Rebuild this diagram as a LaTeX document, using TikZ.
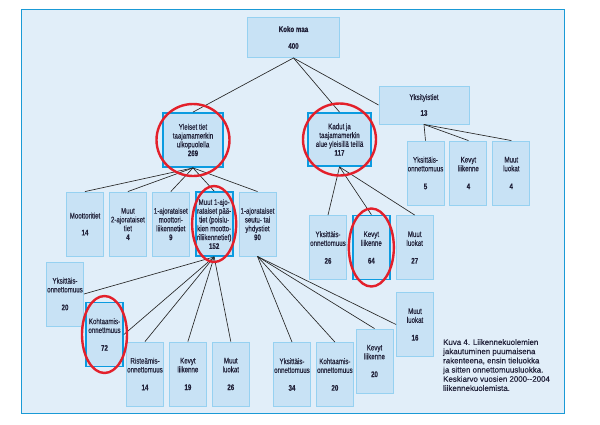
\documentclass[tikz,border=0pt]{standalone}
\usepackage{fontspec}
\setmainfont{Liberation Sans}[FakeStretch=0.76,FakeBold=0.35]
\newfontfamily\capfont{Liberation Sans}[FakeBold=0.35]
\usepackage{tikz}
\usetikzlibrary{positioning}
\definecolor{ink}{HTML}{22223A}
\definecolor{wire}{HTML}{262626}
\definecolor{panelbg}{HTML}{E1EEF9}
\definecolor{panelline}{HTML}{1A9AD6}
\definecolor{boxfill}{HTML}{C8E2F5}
\definecolor{boxline}{HTML}{96D1F1}
\definecolor{hlblue}{HTML}{0B9BE0}
\definecolor{ringred}{HTML}{E3202B}
\newcommand{\boxfont}{\fontsize{8.1}{8.8}\selectfont}
\tikzset{
  every node/.style={text=ink},
  box/.style={draw=boxline,fill=boxfill,line width=0.9pt,align=center,inner xsep=0pt,inner ysep=1pt,minimum width=37pt,minimum height=64pt,font=\boxfont},
  hl/.style={box,draw=hlblue,line width=1.8pt},
  ring/.style={draw=ringred,line width=2.4pt},
  link/.style={draw=wire,line width=0.65pt},
  panel/.style={fill=panelbg,draw=panelline,line width=1pt},
  capnote/.style={font=\capfont\fontsize{7.9}{9.2}\selectfont,align=left,inner sep=0pt}
}
\begin{document}
\begin{tikzpicture}[x=1pt,y=-1pt,node distance=5pt and 5pt]
  \fill[white] (0,0) rectangle (600,424);
  \useasboundingbox (0,0) rectangle (600,424);
  \draw[panel] (21,9) rectangle (564,413);

  % top levels
  \node[box,font=\boxfont\bfseries,minimum width=92pt,minimum height=40pt] (koko) at (293.5,37.5) {Koko maa\\[8pt]400};
  \node[hl,minimum width=60pt,minimum height=54pt] (yleiset) at (193,140) {Yleiset tiet\\taajamamerkin\\ulkopuolella\\\textbf{269}};
  \node[hl,minimum width=63pt,minimum height=53pt] (kadut) at (339.5,139.5) {Kadut ja\\taajamamerkin\\alue yleisillä teillä\\\textbf{117}};
  \node[box,minimum width=90pt,minimum height=38pt] (yksit) at (424,105) {Yksityistiet\\[7pt]\textbf{13}};

  % road classes
  \node[box] (moottori) at (85,224) {Moottoritiet\\[8pt]\textbf{14}};
  \node[box,right=of moottori] (muut2) {Muut\\2-ajorataiset\\tiet\\\textbf{4}};
  \node[box,right=of muut2] (moottoriliik) {1-ajorataiset\\moottori-\\liikennetiet\\\textbf{9}};
  \node[hl,right=of moottoriliik] (muut1) {Muut 1-ajo-\\rataiset pää-\\tiet (poislu-\\kien mootto-\\riliikennetiet)\\\textbf{152}};
  \node[box,right=of muut1] (seutu) {1-ajorataiset\\seutu- tai\\yhdystiet\\\textbf{90}};

  \node[box] (kyks) at (328,247.5) {Yksittäis-\\onnettomuus\\[9pt]\textbf{26}};
  \node[hl,right=of kyks] (kkevyt) {Kevyt\\liikenne\\[9pt]\textbf{64}};
  \node[box,right=of kkevyt] (kmuut) {Muut\\luokat\\[9pt]\textbf{27}};

  \node[box] (pyks) at (425.5,173) {Yksittäis-\\onnettomuus\\[9pt]\textbf{5}};
  \node[box,right=of pyks] (pkevyt) {Kevyt\\liikenne\\[9pt]\textbf{4}};
  \node[box,right=of pkevyt] (pmuut) {Muut\\luokat\\[9pt]\textbf{4}};

  % accident classes
  \node[box] (yks20) at (65,294) {Yksittäis-\\onnettomuus\\[9pt]\textbf{20}};
  \node[hl] (koht72) at (104.5,334.5) {Kohtaamis-\\onnettmuus\\[9pt]\textbf{72}};
  \node[box] (rist14) at (145,374) {Risteämis-\\onnettomuus\\[9pt]\textbf{14}};
  \node[box,right=of rist14] (kev19) {Kevyt\\liikenne\\[9pt]\textbf{19}};
  \node[box,right=of kev19] (muut26) {Muut\\luokat\\[9pt]\textbf{26}};

  \node[box] (yks34) at (292,374.5) {Yksittäis-\\onnettomuus\\[9pt]\textbf{34}};
  \node[box,right=of yks34] (koht20) {Kohtaamis-\\onnettomuus\\[9pt]\textbf{20}};
  \node[box] (kev20) at (374.5,361) {Kevyt\\liikenne\\[9pt]\textbf{20}};
  \node[box] (muut16) at (415,324.5) {Muut\\luokat\\[9pt]\textbf{16}};

  \node[capnote,anchor=north west] (caption) at (443,339) {Kuva 4. Liikennekuolemien\\jakautuminen puumaisena\\rakenteena, ensin tieluokka\\ja sitten onnettomuusluokka.\\Keskiarvo vuosien 2000--2004\\liikennekuolemista.};

  % connectors
  \draw[link] (koko.south) -- (yleiset.north);
  \draw[link] (koko.south) -- (kadut.north);
  \draw[link] (koko.south) -- (yksit.west);
  \foreach \c in {moottori,muut2,moottoriliik,muut1,seutu}
    \draw[link] (yleiset.south) -- (\c.north);
  \foreach \c in {kyks,kkevyt,kmuut}
    \draw[link] (kadut.south) -- (\c.north);
  \foreach \c in {pyks,pkevyt,pmuut}
    \draw[link] (yksit.south) -- (\c.north);
  \draw[link] (muut1.south) -- (yks20.east);
  \draw[link] (muut1.south) -- (koht72.east);
  \foreach \c in {rist14,kev19,muut26}
    \draw[link] (muut1.south) -- (\c.north);
  \foreach \c in {yks34,koht20,kev20}
    \draw[link] (seutu.south) -- (\c.north);
  \draw[link] (seutu.south) -- (muut16.west);

  % red rings
  \draw[ring] (yleiset) ellipse (36.5 and 36);
  \draw[ring] (kadut) ellipse (36.5 and 36);
  \draw[ring] (muut1) ellipse (22 and 38);
  \draw[ring] (kkevyt) ellipse (22.5 and 39);
  \draw[ring] (koht72) ellipse (22.5 and 38.5);
\end{tikzpicture}
\end{document}
